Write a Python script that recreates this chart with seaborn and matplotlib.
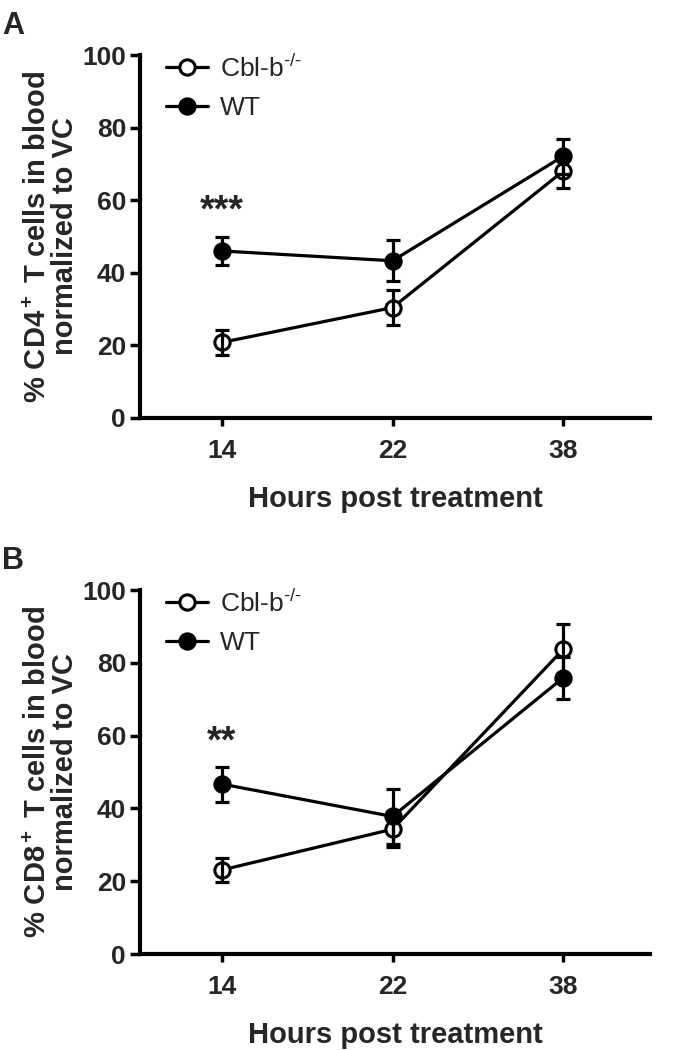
import matplotlib
matplotlib.use("Agg")
import matplotlib.pyplot as plt
import seaborn as sns
import numpy as np
import pandas as pd

# ---- data ----
hours = ["14", "22", "38"]
series = ["Cbl-b$^{\u2010/\u2010}$", "WT"]

cd4_cbl = [20.8, 30.4, 68.0]
cd4_cbl_err = [3.5, 4.9, 4.6]
cd4_wt = [46.0, 43.3, 72.1]
cd4_wt_err = [3.8, 5.6, 4.8]

cd8_cbl = [23.1, 34.3, 83.7]
cd8_cbl_err = [3.4, 4.9, 6.9]
cd8_wt = [46.7, 37.8, 75.9]
cd8_wt_err = [4.8, 7.6, 5.7]

stars_a = "***"
stars_b = "**"
star_y = [57, 58]

yticks = [0, 20, 40, 60, 80, 100]

sns.set_theme(style="ticks")
plt.rcParams['font.family'] = ['Liberation Sans', 'DejaVu Sans']
plt.rcParams['mathtext.fontset'] = 'custom'
plt.rcParams['mathtext.rm'] = 'Liberation Sans'
plt.rcParams['mathtext.bf'] = 'Liberation Sans:bold'
plt.rcParams['mathtext.it'] = 'Liberation Sans:italic'

fig = plt.figure(figsize=(6.88, 10.5), dpi=100)
axA = fig.add_axes([0.2035, 0.602, 0.7415, 0.3456])
axB = fig.add_axes([0.2035, 0.0914, 0.7415, 0.3466])

def draw(ax, cbl, cbl_err, wt, wt_err, ylab, stars, sy, letter):
    df = pd.DataFrame({
        "pos": list(range(len(hours))) * 2,
        "val": cbl + wt,
        "err": cbl_err + wt_err,
        "group": [series[0]] * len(hours) + [series[1]] * len(hours),
    })
    for g, face in zip(series, ["white", "black"]):
        d = df[df.group == g]
        sns.lineplot(data=d, x="pos", y="val", ax=ax, color="black",
                     marker="o", markersize=11, markerfacecolor=face,
                     markeredgecolor="black", markeredgewidth=2.2,
                     linewidth=2.3, label=g, zorder=3)
        ax.errorbar(d["pos"], d["val"], yerr=d["err"], fmt="none",
                    ecolor="black", elinewidth=2.3, capsize=5, capthick=2.3,
                    zorder=4)
    ax.set_xlim(-0.48, 2.51)
    ax.set_ylim(0, 100)
    ax.set_yticks(yticks)
    ax.set_xticks(range(len(hours)))
    ax.set_xticklabels(hours)
    for lab in ax.get_xticklabels() + ax.get_yticklabels():
        lab.set_fontweight("bold")
        lab.set_fontsize(19)
    ax.tick_params(axis="both", width=2.5, length=7, color="black", pad=3)
    ax.tick_params(axis="x", length=6, pad=9)
    for s in ["left", "bottom"]:
        ax.spines[s].set_linewidth(3)
        ax.spines[s].set_color("black")
    sns.despine(ax=ax)
    ax.set_xlabel("Hours post treatment", fontsize=21, fontweight="bold", labelpad=16)
    ax.set_ylabel(ylab, fontsize=21, fontweight="bold", labelpad=2, linespacing=1.0)
    ax.text(0, sy, stars, ha="center", va="center", fontsize=27, fontweight="bold")
    ax.legend(loc="upper left", frameon=False, fontsize=19,
              bbox_to_anchor=(0.02, 1.045), handlelength=1.6,
              handletextpad=0.45, labelspacing=0.55, borderaxespad=0.2)
    ax.text(-0.27, 1.12, letter, transform=ax.transAxes, fontsize=22,
            fontweight="bold", ha="left", va="top")

draw(axA, cd4_cbl, cd4_cbl_err, cd4_wt, cd4_wt_err,
     "% CD4$\\mathbf{^+}$ T cells in blood\nnormalized to VC", stars_a, star_y[0], "A")
draw(axB, cd8_cbl, cd8_cbl_err, cd8_wt, cd8_wt_err,
     "% CD8$\\mathbf{^+}$ T cells in blood\nnormalized to VC", stars_b, star_y[1], "B")

fig.savefig("out.png", dpi=100, facecolor="white")
